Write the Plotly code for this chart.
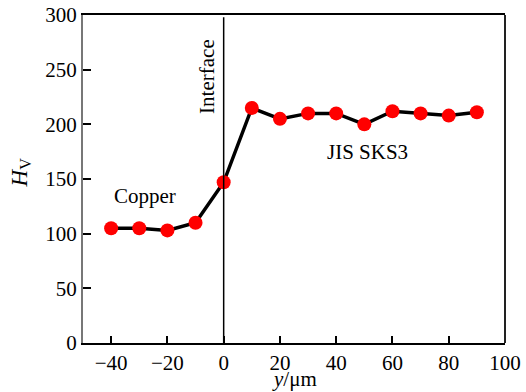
import plotly.graph_objects as go

positions = [-40, -30, -20, -10, 0, 10, 20, 30, 40, 50, 60, 70, 80, 90]
hardness = [105, 105, 103, 110, 147, 215, 205, 210, 210, 200, 212, 210, 208, 211]
x_ticks = [-40, -20, 0, 20, 40, 60, 80, 100]
y_ticks = [0, 50, 100, 150, 200, 250, 300]

FONT = "Liberation Serif"

fig = go.Figure()
fig.add_trace(go.Scatter(
    x=positions, y=hardness, mode="lines+markers",
    line=dict(color="black", width=3.5),
    marker=dict(color="#ff0000", size=14, line=dict(width=0)),
    showlegend=False, cliponaxis=False,
))

# interface line
fig.add_shape(type="line", x0=0, x1=0, y0=0, y1=298, xref="x", yref="y",
              line=dict(color="black", width=1.5))
# right border
fig.add_shape(type="line", x0=1, x1=1, y0=0, y1=1, xref="paper", yref="paper",
              line=dict(color="#222222", width=2))

fig.add_annotation(x=0, y=244, xref="x", yref="y", text="Interface", textangle=-90,
                   showarrow=False, xanchor="right", yanchor="middle", xshift=-2,
                   font=dict(family=FONT, size=21, color="black"))
fig.add_annotation(x=-28, y=134, xref="x", yref="y", text="Copper",
                   showarrow=False, font=dict(family=FONT, size=21, color="black"))
fig.add_annotation(x=51, y=175, xref="x", yref="y", text="JIS SKS3",
                   showarrow=False, font=dict(family=FONT, size=21, color="black"))
# axis titles
fig.add_annotation(x=0.5, y=0, xref="paper", yref="paper", yshift=-36,
                   text="<i>y</i>/μm", showarrow=False, yanchor="middle",
                   font=dict(family=FONT, size=21, color="black"))
fig.add_annotation(x=0, y=0.52, xref="paper", yref="paper", xshift=-62,
                   text="<i>H</i><sub>V</sub>", showarrow=False, textangle=-90,
                   xanchor="center", font=dict(family=FONT, size=23, color="black"))

fig.update_layout(
    width=526, height=392,
    margin=dict(l=83, r=21, t=15, b=49, autoexpand=False),
    paper_bgcolor="white", plot_bgcolor="white",
    font=dict(family=FONT, size=21, color="black"),
    xaxis=dict(range=[-50, 100], tickvals=x_ticks, ticks="inside", ticklen=7,
               tickcolor="black", tickwidth=1.5, automargin=False,
               showline=True, linecolor="black", linewidth=2, mirror=True,
               showgrid=False, zeroline=False,
               tickfont=dict(size=21)),
    yaxis=dict(range=[0, 300], tickvals=y_ticks, ticks="inside", ticklen=8,
               tickcolor="black", tickwidth=1.5, automargin=False,
               showline=True, linecolor="#777777", linewidth=2,
               showgrid=False, zeroline=False,
               tickfont=dict(size=21)),
)

fig.write_html("out.html", config={"displayModeBar": False},
               post_script="document.body.style.margin='0';document.body.style.overflow='hidden';")
